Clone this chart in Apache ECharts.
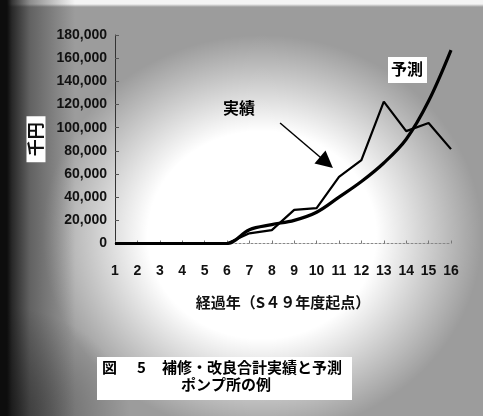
<!DOCTYPE html>
<html>
<head>
<meta charset="utf-8">
<script src="https://cdn.jsdelivr.net/npm/echarts@6/dist/echarts.min.js"></script>
<style>
  html, body { margin: 0; padding: 0; }
  body {
    width: 483px; height: 416px; overflow: hidden;
    /* scanned-paper backdrop: dark left margin, grey haze, bright centre */
    background:
      linear-gradient(90deg, #0d0d0d 0, #0d0d0d 7px, rgba(20,20,20,0.85) 12px, rgba(40,40,40,0.5) 30px, rgba(60,60,60,0) 75px),
      radial-gradient(ellipse 130px 110px at 0px 416px, rgba(0,0,0,0.55), rgba(0,0,0,0) 100%),
      radial-gradient(ellipse 220px 200px at 262px 235px, #ffffff 0%, #ffffff 52%, rgba(255,255,255,0) 100%),
      linear-gradient(180deg, #f4f4f4 0, #f4f4f4 4px, #9c9c9c 7px, #9c9c9c 100%);
  }
  #chart { width: 483px; height: 416px; }
</style>
</head>
<body>
<div id="chart"></div>
<script>
// elapsed years since FY S49
const years = [1, 2, 3, 4, 5, 6, 7, 8, 9, 10, 11, 12, 13, 14, 15, 16];
// actual repair + improvement cost (thousand yen)
const actual = [0, 0, 0, 0, 0, 0, 8800, 11500, 29000, 30500, 57500, 72000, 122500, 97000, 104000, 81500];
// forecast curve (thousand yen)
const forecast = [0, 0, 0, 0, 0, 0, 11900, 16300, 20000, 27000, 40000, 53500, 69500, 90000, 123000, 167000];
// y axis ticks
const yTicks = [0, 20000, 40000, 60000, 80000, 100000, 120000, 140000, 160000, 180000];

const chart = echarts.init(document.getElementById('chart'), null, { renderer: 'canvas' });

const pairs = (vals) => years.map((y, i) => [y, vals[i]]);
const numFont = '"Liberation Sans", Arial, sans-serif';
const jpFont = '"Noto Sans CJK JP", sans-serif';

chart.setOption({
  backgroundColor: 'transparent',
  animation: false,
  grid: { left: 115, right: 32, top: 35, bottom: 172.5 },
  xAxis: {
    type: 'value',
    min: years[0],
    max: years[years.length - 1],
    interval: 1,
    name: '経過年（S４９年度起点）',
    nameLocation: 'middle',
    nameGap: 51,
    nameTextStyle: { fontFamily: jpFont, fontSize: 15, color: '#111', fontWeight: 'bold' },
    axisLine: { show: true, lineStyle: { color: '#888', width: 1, type: [2, 2] } },
    axisTick: { show: true, inside: true, length: 3, lineStyle: { color: '#777' } },
    splitLine: { show: false },
    axisLabel: { margin: 21, fontFamily: numFont, fontSize: 14, color: '#111', fontWeight: 'bold' }
  },
  yAxis: {
    type: 'value',
    min: yTicks[0],
    max: yTicks[yTicks.length - 1],
    interval: yTicks[1] - yTicks[0],
    name: '千円',
    nameLocation: 'middle',
    nameRotate: 90,
    nameGap: 66,
    nameTextStyle: {
      fontFamily: jpFont, fontSize: 17, color: '#111', fontWeight: 'bold',
      backgroundColor: '#fff', padding: [1, 6, 1, 6]
    },
    axisLine: { show: true, lineStyle: { color: '#333', width: 1 } },
    axisTick: { show: true, inside: true, length: 4, lineStyle: { color: '#555' } },
    splitLine: { show: false },
    axisLabel: {
      margin: 8, fontFamily: numFont, fontSize: 14, color: '#111', fontWeight: 'bold',
      formatter: (v) => v.toLocaleString('en-US')
    }
  },
  series: [
    {
      name: '予測',
      type: 'line',
      data: pairs(forecast),
      smooth: 0.35,
      showSymbol: false,
      lineStyle: { color: '#000', width: 3.2 },
      z: 3
    },
    {
      name: '実績',
      type: 'line',
      data: pairs(actual),
      showSymbol: false,
      lineStyle: { color: '#000', width: 2.2 },
      z: 4,
      markLine: {
        silent: true,
        symbol: ['none', 'triangle'],
        symbolSize: 17,
        label: { show: false },
        itemStyle: { color: '#000' },
        lineStyle: { color: '#000', width: 1.5, type: 'solid' },
        data: [[{ coord: [8.37, 104000] }, { coord: [10.44, 69900] }]]
      }
    }
  ],
  graphic: [
    { type: 'text', left: 223, top: 100, style: { text: '実績', font: 'bold 16px "Noto Sans CJK JP"', fill: '#000' } },
    { type: 'rect', shape: { x: 388, y: 57, width: 39, height: 26 }, style: { fill: '#fff' } },
    { type: 'text', left: 391, top: 61, style: { text: '予測', font: 'bold 16px "Noto Sans CJK JP"', fill: '#000' } },
    { type: 'rect', shape: { x: 97, y: 357, width: 255, height: 43 }, style: { fill: '#fff' } },
    { type: 'text', left: 102, top: 360, style: { text: '図', font: 'bold 15px "Noto Sans CJK JP"', fill: '#000' } },
    { type: 'text', left: 137, top: 360, style: { text: '5', font: 'bold 15px "Noto Sans CJK JP"', fill: '#000' } },
    { type: 'text', left: 162, top: 360, style: { text: '補修・改良合計実績と予測', font: 'bold 15px "Noto Sans CJK JP"', fill: '#000' } },
    { type: 'text', left: 181, top: 377, style: { text: 'ポンプ所の例', font: 'bold 15px "Noto Sans CJK JP"', fill: '#000' } }
  ]
});
</script>
</body>
</html>
